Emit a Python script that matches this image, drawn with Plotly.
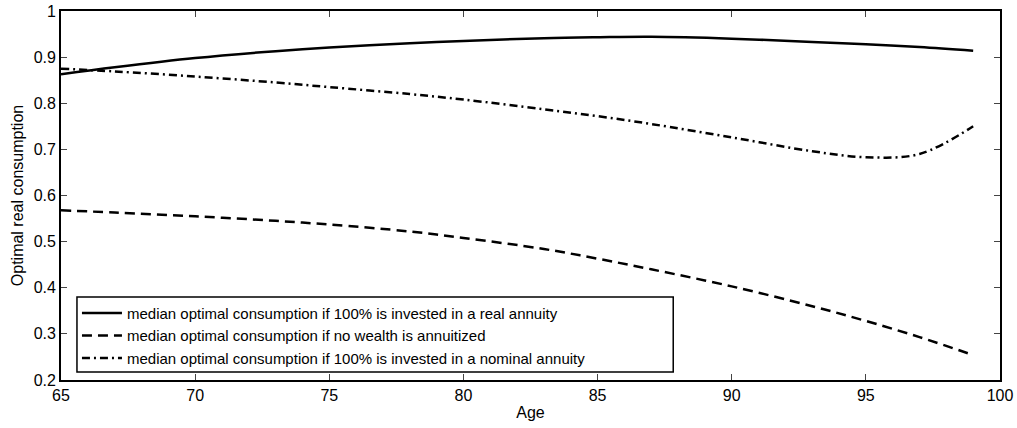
import plotly.graph_objects as go

ages = [65, 67, 70, 73, 75, 78, 80, 83, 85, 87, 90, 93, 95, 97, 99]
real_annuity = [0.863, 0.878, 0.898, 0.913, 0.921, 0.930, 0.935, 0.941, 0.943, 0.944, 0.940, 0.933, 0.928, 0.922, 0.914]
no_annuity = [0.568, 0.563, 0.555, 0.545, 0.537, 0.522, 0.508, 0.484, 0.463, 0.440, 0.403, 0.360, 0.328, 0.293, 0.254]
nominal_annuity = [0.875, 0.869, 0.858, 0.845, 0.835, 0.820, 0.808, 0.787, 0.772, 0.755, 0.726, 0.696, 0.683, 0.690, 0.750]

x_ticks = [65, 70, 75, 80, 85, 90, 95, 100]
y_ticks = [0.2, 0.3, 0.4, 0.5, 0.6, 0.7, 0.8, 0.9, 1.0]
y_ticklabels = ["0.2", "0.3", "0.4", "0.5", "0.6", "0.7", "0.8", "0.9", "1"]

names = [
    "median optimal consumption if 100% is invested in a real annuity",
    "median optimal consumption if no wealth is annuitized",
    "median optimal consumption if 100% is invested in a nominal annuity",
]

FONT = "Liberation Sans, Arial"

fig = go.Figure()
for ys, nm, dash in [(real_annuity, names[0], "solid"),
                     (no_annuity, names[1], "10px,6px"),
                     (nominal_annuity, names[2], "8px,4px,2px,4px")]:
    fig.add_trace(go.Scatter(x=ages, y=ys, name=nm, mode="lines",
                             line=dict(color="black", width=2.5, dash=dash, shape="spline")))

axis_common = dict(showline=True, linecolor="black", linewidth=1.8, mirror="ticks",
                   ticks="inside", ticklen=6, tickcolor="#444", tickwidth=1,
                   showgrid=False, zeroline=False, automargin=False,
                   ticklabeloverflow="allow",
                   tickfont=dict(family=FONT, size=16, color="black"))

fig.update_xaxes(range=[65, 100], tickvals=x_ticks,
                 title=dict(text="Age", font=dict(family=FONT, size=16, color="black"),
                            standoff=4), **axis_common)
fig.update_yaxes(range=[0.2, 1], tickvals=y_ticks, ticktext=y_ticklabels,
                 title=dict(text="Optimal real consumption", font=dict(family=FONT, size=16, color="black"),
                            standoff=6), **axis_common)

# legend frame (MATLAB-style wide box)
fig.add_shape(type="rect", xref="x domain", yref="y domain",
              x0=0.017, x1=0.652, y0=0.0217, y1=0.225,
              line=dict(color="black", width=1.5), fillcolor="white", layer="above")

fig.update_layout(
    width=1017, height=428,
    margin=dict(l=61, r=17, t=11, b=48),
    plot_bgcolor="white", paper_bgcolor="white",
    font=dict(family=FONT, size=16, color="black"),
    legend=dict(x=0.017, y=0.014, xanchor="left", yanchor="bottom",
                borderwidth=0, bgcolor="rgba(0,0,0,0)",
                font=dict(family=FONT, size=15, color="black"),
                tracegroupgap=0, itemwidth=40),
    showlegend=True,
)

fig.write_html("out.html", config={"displayModeBar": False},
               post_script="document.body.style.margin='0';document.body.style.overflow='hidden';")
